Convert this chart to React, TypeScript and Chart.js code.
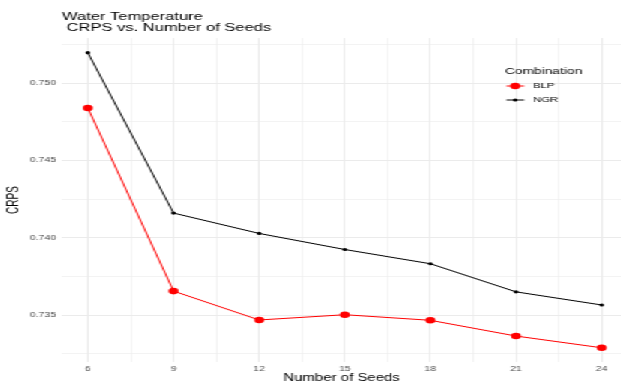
import React, { useEffect, useRef } from "react";
import { Chart, registerables } from "chart.js";

Chart.register(...registerables);

const seeds = [6, 9, 12, 15, 18, 21, 24];
const blp = [0.7484, 0.73655, 0.73468, 0.73502, 0.73466, 0.73364, 0.73288];
const ngr = [0.75198, 0.7416, 0.74028, 0.73924, 0.73832, 0.7365, 0.73565];
const yTicks = [0.7325, 0.735, 0.7375, 0.74, 0.7425, 0.745, 0.7475, 0.75, 0.7525];
const xTicks = [6, 7.5, 9, 10.5, 12, 13.5, 15, 16.5, 18, 19.5, 21, 22.5, 24];
const titleLines = ["Water Temperature", " CRPS vs. Number of Seeds"];
const legendTitle = "Combination";
const seriesNames = ["BLP", "NGR"];

const FONT = "'Liberation Sans', Arial, Helvetica, sans-serif";
const W = 414;
const H = 383;

const isMajorY = (v: number) => Math.abs(v * 200 - Math.round(v * 200)) < 1e-6;
const isMajorX = (v: number) => Math.abs(v / 3 - Math.round(v / 3)) < 1e-6;

const overlay = {
  id: "overlay",
  afterDraw(chart: any) {
    const ctx = chart.ctx;
    const area = chart.chartArea;
    ctx.save();
    ctx.fillStyle = "#000";
    ctx.textBaseline = "middle";
    ctx.textAlign = "left";
    ctx.font = `11px ${FONT}`;
    ctx.fillText(titleLines[0], area.left, 16.7);
    ctx.fillText(titleLines[1], area.left, 28.3);

    // legend
    const lx = 336.7;
    ctx.font = `9.2px ${FONT}`;
    ctx.fillText(legendTitle, lx, 71.7);
    const rows = [86, 100];
    chart.data.datasets.forEach((ds: any, i: number) => {
      const y = rows[i];
      ctx.strokeStyle = ds.borderColor;
      ctx.lineWidth = ds.borderWidth;
      ctx.beginPath();
      ctx.moveTo(lx + 1, y);
      ctx.lineTo(lx + 12.8, y);
      ctx.stroke();
      ctx.fillStyle = ds.pointBackgroundColor;
      ctx.beginPath();
      ctx.arc(lx + 6.9, y, ds.pointRadius, 0, Math.PI * 2);
      ctx.fill();
      ctx.fillStyle = "#000";
      ctx.font = `7.5px ${FONT}`;
      ctx.fillText(ds.label, lx + 18.8, y);
    });
    ctx.restore();
  },
};

export default function App() {
  const ref = useRef<HTMLCanvasElement | null>(null);
  useEffect(() => {
    document.body.style.margin = "0";
    const canvas = ref.current;
    if (!canvas) return;
    const chart = new Chart(canvas, {
      type: "line",
      data: {
        datasets: [
          {
            label: seriesNames[0],
            data: seeds.map((s, i) => ({ x: s, y: blp[i] })),
            borderColor: "#ff0000",
            backgroundColor: "#ff0000",
            pointBackgroundColor: "#ff0000",
            pointBorderWidth: 0,
            pointRadius: 3.3,
            borderWidth: 1,
          },
          {
            label: seriesNames[1],
            data: seeds.map((s, i) => ({ x: s, y: ngr[i] })),
            borderColor: "#000000",
            backgroundColor: "#000000",
            pointBackgroundColor: "#000000",
            pointBorderWidth: 0,
            pointRadius: 1.6,
            borderWidth: 1,
          },
        ],
      },
      options: {
        animation: false,
        responsive: false,
        devicePixelRatio: 1,
        layout: { autoPadding: false, padding: { top: 38, right: 0, left: 0, bottom: 0 } },
        plugins: {
          legend: { display: false },
          title: { display: false },
          tooltip: { enabled: false },
        },
        scales: {
          x: {
            type: "linear",
            min: 5.1,
            max: 24.67,
            afterBuildTicks: (scale: any) => {
              scale.ticks = xTicks.map((v) => ({ value: v }));
            },
            afterFit: (scale: any) => {
              scale.height = 21;
              scale.paddingLeft = 0;
              scale.paddingRight = 0;
            },
            border: { display: false },
            grid: {
              color: "#ebebeb",
              lineWidth: (c: any) => (c.tick && isMajorX(c.tick.value) ? 1 : 0.6),
              drawTicks: false,
            },
            ticks: {
              padding: 2.5,
              autoSkip: false,
              maxRotation: 0,
              color: "#4d4d4d",
              font: { family: FONT, size: 7 },
              callback: (v: any) => (isMajorX(Number(v)) ? String(v) : ""),
            },
            title: {
              display: true,
              text: "Number of Seeds",
              color: "#000",
              font: { family: FONT, size: 10, lineHeight: 1 },
              padding: { top: 0, bottom: 0 },
            },
          },
          y: {
            type: "linear",
            min: 0.73196,
            max: 0.75293,
            afterBuildTicks: (scale: any) => {
              scale.ticks = yTicks.map((v) => ({ value: v }));
            },
            afterFit: (scale: any) => {
              scale.width = 41.3;
              scale.paddingTop = 0;
              scale.paddingBottom = 0;
            },
            border: { display: false },
            grid: {
              color: "#ebebeb",
              lineWidth: (c: any) => (c.tick && isMajorY(c.tick.value) ? 1 : 0.6),
              drawTicks: false,
            },
            ticks: {
              padding: 4,
              autoSkip: false,
              color: "#4d4d4d",
              font: { family: FONT, size: 7 },
              callback: (v: any) => (isMajorY(Number(v)) ? Number(v).toFixed(3) : ""),
            },
            title: {
              display: true,
              text: "CRPS",
              color: "#000",
              font: { family: FONT, size: 10, lineHeight: 1.2 },
              padding: { top: 3.5, bottom: 0 },
            },
          },
        },
      },
      plugins: [overlay],
    } as any);
    return () => chart.destroy();
  }, []);

  return (
    <div
      style={{
        position: "fixed",
        left: 0,
        top: 0,
        width: W,
        height: H,
        transform: "scaleX(1.5)",
        transformOrigin: "0 0",
        background: "#fff",
      }}
    >
      <canvas
        ref={ref}
        width={W}
        height={H}
        style={{ display: "block", width: `${W}px`, height: `${H}px` }}
      />
    </div>
  );
}
